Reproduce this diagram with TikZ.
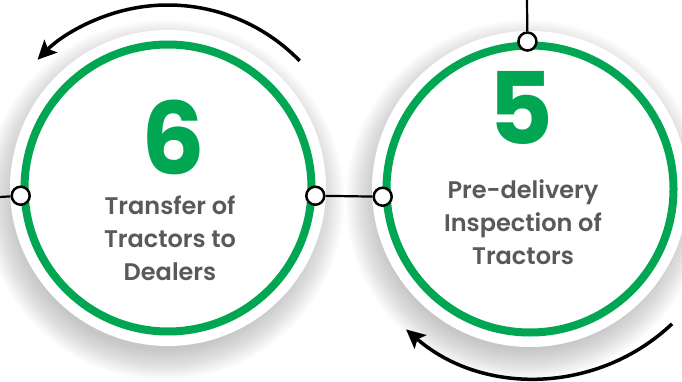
\documentclass[tikz,border=0pt]{standalone}
\usepackage{fontspec}
\setmainfont{Poppins}[BoldFont={Poppins SemiBold}]
\newfontfamily\numfont{Poppins}
\usetikzlibrary{arrows.meta}
\definecolor{stagegreen}{RGB}{0,166,81}
\definecolor{stagegrey}{RGB}{88,89,91}
\tikzset{
  stage_disc/.style = {circle, fill=white, minimum size=316pt, inner sep=0pt},% white plate
  stage_ring/.style = {circle, draw=stagegreen, line width=8pt,
    minimum size=287pt, inner sep=0pt},% green ring
  stage_num/.style = {stagegreen, font=\fontsize{100}{100}\numfont\bfseries,
    inner sep=0pt, anchor=base},
  stage_txt/.style = {stagegrey, align=center, inner sep=0pt,
    font=\fontsize{24}{33}\selectfont\bfseries},
  port/.style = {circle, draw=black, fill=white, line width=2.5pt,
    minimum size=18pt, inner sep=0pt},% small joint on the ring
  link/.style = {black, line width=2.2pt},
  flow/.style = {-{Stealth[length=19pt,width=18pt,inset=4pt]}, black,
    line width=3.5pt},
}

\begin{document}
\begin{tikzpicture}[x=1pt,y=1pt]
  \useasboundingbox (0,0) rectangle (682,381);

  % soft shadows under the plates
  \foreach \cx in {164,526}
    \foreach \rr in {150,152,...,180}
      \fill[black, opacity=0.016] (\cx,181) circle (\rr);

  \node[stage_disc] (d6) at (168,193) {};
  \node[stage_disc] (d5) at (530,192) {};

  % curved arrows
  \coordinate (f5) at (536,201);
  \draw[flow] ([shift={(44:183)}]d6.center) arc[start angle=44, end angle=135.5, radius=183];
  \draw[flow] ([shift={(-46.6:198)}]f5) arc[start angle=-46.6, end angle=-131, radius=198];

  \node[stage_ring] (r6) at (168,193) {};
  \node[stage_ring] (r5) at (530,192) {};

  \coordinate (in6) at (0,184);
  \coordinate (in5) at (527,381);
  \node[port] (p6w) at (r6.183.5) {};
  \node[port] (p6e) at (r6.-3.5) {};
  \node[port] (p5w) at (r5.183.5) {};
  \node[port] (p5n) at (r5.91) {};

  % links
  \path[link] (in6) edge (p6w);
  \path[link] (p6e) edge (p5w);
  \path[link] (in5) edge (p5n);

  \node[stage_num] (n6) at (173,207) {6};
  \node[stage_txt] (t6) at (170,143) {Transfer of\\Tractors to\\Dealers};
  \node[stage_num] (n5) at (521,237) {5};
  \node[stage_txt] (t5) at (523,159) {Pre-delivery\\Inspection of\\Tractors};
\end{tikzpicture}
\end{document}
